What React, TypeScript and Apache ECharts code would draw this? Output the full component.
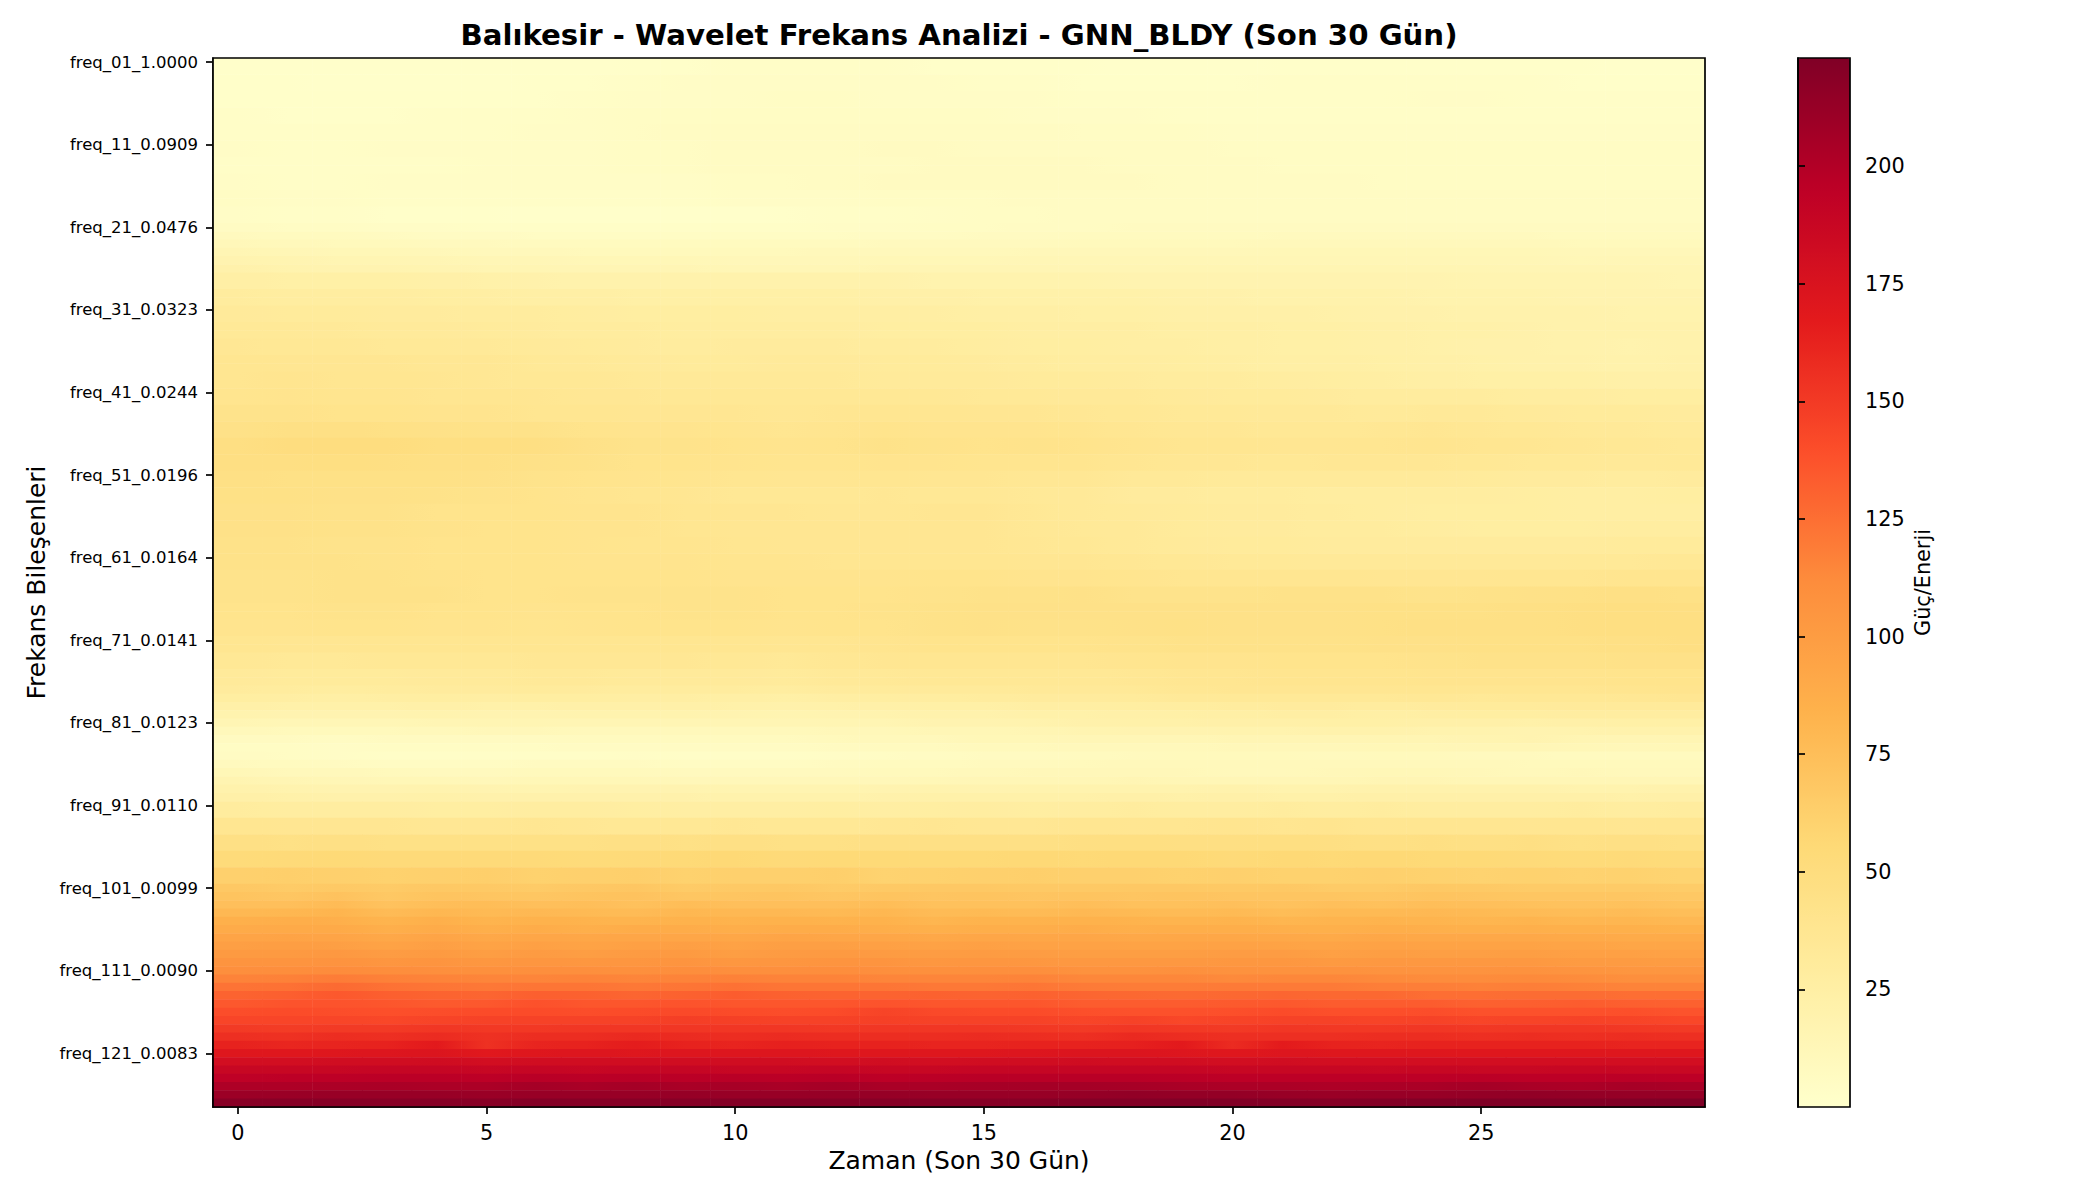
import React, { useEffect, useRef } from "react";
import * as echarts from "echarts";

const days = Array.from({ length: 30 }, (_, i) => String(i));
const tickLabels = [
  "freq_01_1.0000", "freq_11_0.0909", "freq_21_0.0476", "freq_31_0.0323", "freq_41_0.0244",
  "freq_51_0.0196", "freq_61_0.0164", "freq_71_0.0141", "freq_81_0.0123", "freq_91_0.0110",
  "freq_101_0.0099", "freq_111_0.0090", "freq_121_0.0083",
];
const colorbarTicks = [25, 50, 75, 100, 125, 150, 175, 200];
const ylOrRd = ["#ffffcc", "#ffeda0", "#fed976", "#feb24c", "#fd8d3c", "#fc4e2a", "#e31a1c", "#bd0026", "#800026"];
const VMIN = 0;
const VMAX = 223;

// How many frequency rows each line of bandValues covers (one row where the colour changes fast).
const bandRowCounts = [
  2, 2, 2, 2, 2, 2, 2, 2, 2, 2,
  1, 1, 1, 1, 1, 1,
  2, 2, 2, 2, 2, 2, 2, 2, 2, 2, 2, 2, 2, 2, 2, 2, 2, 2, 2, 2, 2, 2, 2, 2, 2,
  1, 1, 1, 1, 1, 1, 1, 1, 1, 1, 1, 1, 1, 1,
  2, 2, 2, 2, 2,
  1, 1, 1, 1, 1, 1, 1, 1, 1, 1, 1, 1, 1, 1, 1, 1, 1, 1, 1, 1, 1, 1, 1, 1, 1, 1, 1,
];
const bandValues = [
  [1,1,1,1,1,1,1,1,2,2,3,3,3,3,2,2,2,2,1,1,1,2,2,2,2,2,2,2,1,1],
  [2,2,1,1,1,1,2,2,3,4,4,4,4,4,4,3,3,2,2,2,2,3,3,3,3,3,3,2,2,2],
  [2,2,2,2,2,2,2,3,4,4,4,5,5,4,4,4,4,3,3,3,3,3,3,3,4,4,3,3,3,3],
  [3,2,2,2,3,3,3,4,5,5,5,5,5,5,5,5,4,4,4,3,3,3,3,3,3,3,3,3,3,3],
  [3,3,3,3,3,3,4,4,5,6,6,6,6,6,6,6,6,5,5,5,4,4,4,4,4,4,4,4,4,4],
  [4,3,3,4,4,4,4,4,5,5,6,6,6,7,7,6,6,6,6,6,5,5,5,5,5,5,5,5,5,5],
  [3,3,3,3,3,4,4,4,5,5,6,6,6,6,7,7,7,7,6,6,6,5,5,5,5,5,5,5,5,5],
  [4,3,3,4,4,4,4,4,4,4,5,5,6,7,7,7,7,7,7,6,6,6,6,5,5,5,5,5,5,5],
  [5,4,4,3,3,3,3,3,3,3,4,4,4,5,5,5,6,6,6,6,6,6,6,6,6,6,6,6,6,6],
  [4,3,3,2,2,2,1,1,1,1,1,2,3,3,4,5,5,6,6,6,6,6,6,6,6,6,6,6,6,6],
  [6,5,5,4,4,3,3,3,3,3,3,3,4,4,5,5,6,6,7,7,7,7,7,7,7,7,7,7,7,7],
  [9,8,8,7,6,6,5,5,5,5,5,5,5,6,6,7,7,8,8,8,8,9,9,9,9,9,9,8,8,8],
  [12,11,10,10,9,9,8,8,8,8,8,8,8,9,9,9,9,10,10,10,10,11,11,11,11,11,11,10,10,10],
  [15,14,13,13,12,11,11,10,10,10,10,10,11,11,11,11,12,12,12,12,12,13,13,13,13,13,13,12,12,12],
  [18,17,16,16,15,14,14,13,13,13,12,12,12,13,13,13,14,14,14,14,14,14,14,14,14,14,14,13,14,14],
  [21,19,18,18,17,16,16,15,15,15,14,14,14,15,15,15,15,15,15,16,16,16,16,16,16,16,15,15,15,15],
  [25,24,24,24,23,22,21,20,20,20,20,20,20,20,19,19,19,19,18,18,18,18,18,18,18,17,17,17,17,16],
  [29,28,28,28,27,26,25,25,24,24,24,24,24,23,23,22,22,22,22,21,21,20,20,20,19,19,19,18,18,18],
  [32,31,31,30,30,29,29,28,27,27,27,26,26,26,26,25,25,24,24,23,23,23,22,21,21,20,20,20,19,19],
  [34,34,33,32,32,31,30,29,29,28,28,28,28,27,27,27,26,26,26,25,25,24,24,23,22,22,21,20,20,20],
  [36,35,35,34,34,33,32,31,30,29,30,30,30,29,29,28,27,27,26,26,25,24,24,23,22,21,21,20,19,20],
  [38,37,37,37,36,36,34,33,32,31,31,32,32,31,31,30,29,28,28,27,26,25,25,24,23,22,21,21,20,21],
  [38,39,38,38,37,36,35,35,34,33,33,33,33,32,32,32,31,31,30,29,29,28,27,26,25,24,24,24,23,23],
  [39,40,39,39,38,38,37,36,36,35,35,35,35,35,35,34,34,33,33,32,31,31,30,29,29,29,28,28,27,27],
  [42,42,41,41,40,40,38,38,37,37,37,36,37,38,38,37,37,36,35,34,34,33,33,32,33,33,32,31,31,30],
  [44,46,46,45,44,43,43,41,40,40,39,38,39,41,40,40,40,39,37,36,36,35,35,36,37,36,35,34,33,32],
  [47,50,50,50,48,48,47,44,42,42,41,40,41,43,42,41,42,41,39,38,38,37,37,38,39,38,37,36,35,34],
  [47,47,48,47,46,46,44,43,41,41,40,39,39,40,40,39,39,39,37,36,36,35,36,36,36,35,34,34,33,34],
  [46,45,45,45,45,44,42,41,40,39,38,37,37,38,37,37,36,36,33,33,32,32,32,32,32,31,30,30,29,30],
  [45,45,44,44,43,42,41,39,38,37,35,35,35,36,35,35,34,33,30,30,29,29,28,28,28,28,27,26,26,27],
  [44,44,43,43,41,41,41,40,40,38,37,37,36,36,37,37,35,33,32,31,30,30,29,28,27,27,27,26,26,26],
  [44,44,43,43,42,41,41,40,40,38,37,37,37,37,37,37,35,34,33,31,30,30,29,29,28,27,27,27,28,28],
  [43,43,42,42,41,41,41,40,39,39,38,37,37,37,37,37,36,35,33,32,31,31,30,30,30,30,30,30,31,31],
  [43,43,43,42,41,41,41,40,40,40,39,39,38,38,38,38,37,37,36,35,34,34,33,33,33,33,33,34,34,35],
  [42,42,43,43,42,41,41,41,41,41,40,40,40,40,41,41,40,40,39,38,38,38,38,37,37,37,38,38,39,39],
  [42,42,43,43,43,41,41,42,42,42,42,41,41,41,42,43,43,44,42,42,42,43,43,43,42,43,44,45,46,45],
  [41,41,42,42,41,41,40,41,41,42,42,41,41,42,43,44,44,44,44,44,44,44,44,45,45,45,46,47,48,47],
  [40,40,41,41,40,40,39,40,41,41,41,40,41,41,43,44,43,43,44,45,44,44,44,45,46,46,46,47,48,48],
  [38,37,37,38,38,38,38,38,38,38,38,37,38,39,41,41,41,41,42,43,43,43,43,44,44,45,45,45,46,47],
  [35,34,34,35,35,35,36,36,36,36,35,34,36,37,38,38,38,38,39,40,40,41,41,41,42,43,43,43,44,44],
  [32,31,31,31,32,32,33,33,32,32,32,31,33,34,35,35,35,35,36,37,38,39,39,39,40,40,40,40,41,41],
  [30,29,28,29,30,30,31,30,29,29,29,28,30,31,32,32,33,33,34,36,37,37,37,37,38,37,38,38,39,40],
  [27,26,25,26,27,26,27,27,26,26,25,24,26,27,28,29,30,30,31,33,34,34,34,34,35,34,35,35,36,37],
  [23,22,22,22,23,22,22,23,23,23,22,21,22,23,24,24,26,26,27,28,29,30,30,29,30,31,31,32,32,32],
  [19,18,18,18,19,18,18,19,19,19,18,17,18,19,20,20,22,22,23,24,25,26,26,25,26,27,27,28,28,28],
  [15,14,14,14,15,16,16,15,15,15,15,15,16,16,18,18,19,21,22,22,23,23,24,24,23,23,22,23,24,24],
  [11,10,10,10,11,12,12,11,11,11,11,11,12,12,14,14,15,17,18,18,19,19,20,20,19,19,18,19,20,20],
  [7,7,6,7,7,7,7,8,8,8,8,8,10,11,11,13,13,14,14,14,15,15,15,16,16,17,18,16,15,16],
  [5,5,4,5,5,5,5,6,6,6,6,6,7,8,8,10,10,11,11,11,12,12,12,13,13,14,14,13,12,13],
  [6,5,4,3,3,3,3,3,4,3,3,3,4,5,6,7,7,8,9,10,10,10,9,10,10,9,9,8,8,8],
  [9,8,7,6,6,6,7,7,7,6,6,6,7,8,8,9,9,10,11,11,11,11,11,11,11,11,10,10,10,10],
  [13,11,11,10,9,9,10,10,10,9,9,9,9,10,10,11,12,12,12,12,11,11,12,13,13,12,11,12,11,11],
  [17,15,14,13,13,12,13,13,13,12,12,12,12,12,13,14,14,14,15,14,14,14,14,15,15,14,14,14,14,14],
  [20,19,18,18,19,18,17,18,18,18,17,17,17,18,19,18,19,19,19,19,20,19,19,20,20,20,20,19,19,20],
  [23,22,21,21,22,21,21,21,21,21,20,20,20,21,22,22,22,22,23,22,23,22,22,23,23,23,23,23,22,23],
  [29,28,28,28,27,27,28,28,27,26,26,26,27,26,27,28,27,28,29,28,28,29,28,29,28,28,28,29,28,29],
  [38,37,37,37,36,36,37,36,35,35,36,35,35,36,37,36,36,38,37,38,39,38,39,37,38,38,37,38,37,38],
  [46,45,46,45,45,45,45,45,46,45,46,45,45,46,46,46,46,47,48,47,47,48,47,46,47,46,47,45,46,45],
  [53,54,55,54,54,54,54,53,54,55,56,54,55,55,55,55,56,55,56,56,54,56,55,56,55,55,54,53,54,53],
  [62,63,62,61,62,63,61,62,63,61,62,62,63,60,61,62,63,62,62,61,62,61,61,62,61,60,61,60,61,59],
  [68,66,67,66,68,67,66,68,69,66,67,68,66,67,68,68,67,67,68,68,67,68,66,66,68,67,66,66,66,65],
  [71,69,72,68,71,70,69,71,72,69,70,71,69,71,70,71,70,71,70,71,70,70,70,69,71,70,69,69,69,68],
  [74,74,77,72,75,76,74,75,73,76,74,74,74,76,73,73,73,75,73,73,74,72,74,73,75,74,73,72,73,71],
  [79,80,82,77,80,78,79,78,77,80,79,79,78,80,77,78,77,79,78,77,78,76,78,78,79,78,77,76,77,75],
  [85,87,86,82,86,82,84,83,82,84,83,84,83,84,81,83,83,84,83,82,83,81,82,83,82,81,82,80,81,79],
  [89,90,90,86,89,86,88,86,88,88,87,88,88,87,85,87,87,88,86,87,87,86,85,87,86,85,86,85,85,84],
  [94,95,94,91,94,91,93,92,93,93,92,94,93,93,91,93,92,93,91,92,92,91,90,92,91,91,91,90,89,89],
  [98,99,98,95,98,95,97,95,97,98,96,98,98,97,96,97,96,96,95,95,96,95,94,96,95,95,95,94,93,93],
  [102,102,103,100,102,99,101,99,101,102,99,101,102,101,100,101,100,99,99,99,100,100,97,99,98,98,99,97,97,96],
  [106,106,107,105,106,104,105,104,105,106,104,105,106,106,104,105,104,103,103,103,104,104,102,103,103,103,103,101,101,100],
  [110,111,112,111,110,109,110,110,109,111,110,110,111,110,109,110,110,108,108,109,108,108,108,107,107,107,108,106,105,105],
  [116,117,119,117,116,115,115,116,115,116,117,116,116,115,115,115,116,114,114,114,113,114,114,113,112,112,113,112,110,110],
  [123,124,127,124,122,121,122,122,121,122,124,122,122,122,121,121,122,120,119,119,120,120,120,118,118,117,118,117,116,116],
  [130,132,135,132,130,129,132,131,129,131,133,131,130,130,131,130,131,129,128,127,128,129,128,128,125,125,126,126,125,125],
  [135,137,137,136,134,135,138,136,136,137,136,136,136,137,136,136,136,133,133,133,134,135,133,133,133,131,132,133,132,131],
  [140,141,140,139,140,141,141,140,141,142,141,140,141,145,142,141,141,139,138,138,139,141,139,139,140,138,138,138,139,137],
  [144,144,144,143,145,146,146,146,146,148,147,146,146,147,146,146,146,144,146,143,145,146,146,145,146,144,145,146,145,143],
  [150,149,150,150,152,151,151,152,152,152,152,152,151,152,152,152,151,150,152,151,150,152,151,151,152,151,152,152,151,150],
  [156,155,157,156,158,155,157,157,159,158,157,158,157,157,157,158,157,156,159,157,156,156,156,157,157,156,157,156,157,156],
  [163,161,162,163,168,155,162,163,166,163,162,164,163,163,162,162,163,163,164,168,158,167,163,162,163,163,163,163,162,162],
  [171,170,171,172,173,169,171,172,171,172,172,172,171,171,171,171,172,173,173,172,170,172,171,171,171,170,170,171,171,171],
  [180,180,181,181,182,180,181,181,181,181,181,181,180,181,180,181,181,182,181,181,180,181,180,180,180,180,180,180,180,180],
  [188,188,188,189,189,188,189,188,189,189,188,188,189,188,188,189,189,189,189,189,188,188,188,187,188,187,187,188,187,187],
  [194,195,195,196,196,195,197,196,197,196,197,196,197,195,196,197,197,197,197,196,195,195,195,195,195,196,195,195,196,195],
  [202,202,203,204,203,203,206,204,206,204,205,204,206,204,204,205,206,206,205,204,203,203,202,203,204,206,204,203,205,204],
  [210,211,212,212,212,211,212,212,212,213,212,212,213,213,212,212,212,213,215,214,214,212,211,212,212,214,215,214,213,213],
  [219,220,220,219,220,219,221,220,220,220,221,221,220,220,220,220,220,221,221,222,222,221,220,221,222,223,222,221,222,223],
];

const frequencyRows = Array.from({ length: 127 }, (_, i) =>
  i % 10 === 0
    ? tickLabels[i / 10]
    : `freq_${String(i + 1).padStart(2, "0")}_${(1 / (i + 1)).toFixed(4)}`
);

// Same colour scale as the colourbar, used to paint each cell's left-to-right blend.
const stops = ylOrRd.map((h) => [1, 3, 5].map((p) => parseInt(h.slice(p, p + 2), 16)));
function colorOf(v: number): string {
  const t = (Math.min(VMAX, Math.max(VMIN, v)) - VMIN) / (VMAX - VMIN);
  const pos = t * (stops.length - 1);
  const i = Math.min(stops.length - 2, Math.floor(pos));
  const f = pos - i;
  const c = stops[i].map((a, k) => Math.round(a + (stops[i + 1][k] - a) * f));
  return `rgb(${c[0]},${c[1]},${c[2]})`;
}

function buildCells() {
  const cells: any[] = [];
  let row = 0;
  bandValues.forEach((values, b) => {
    for (let n = 0; n < bandRowCounts[b]; n++, row++) {
      values.forEach((v, col) => {
        const left = col > 0 ? (values[col - 1] + v) / 2 : v;
        const right = col < values.length - 1 ? (values[col + 1] + v) / 2 : v;
        cells.push({
          value: [col, row, v],
          itemStyle: {
            color: new echarts.graphic.LinearGradient(0, 0, 1, 0, [
              { offset: 0, color: colorOf(left) },
              { offset: 0.5, color: colorOf(v) },
              { offset: 1, color: colorOf(right) },
            ]),
          },
        });
      });
    }
  });
  return cells;
}

const FONT = "DejaVu Sans";

export default function App() {
  const ref = useRef<HTMLDivElement>(null);
  useEffect(() => {
    const chart = echarts.init(ref.current!, null, { renderer: "svg" });
    const edge = { lineStyle: { color: "#000", width: 1.7 } };
    chart.setOption({
      animation: false,
      backgroundColor: "#fff",
      textStyle: { fontFamily: FONT },
      title: {
        text: "Balıkesir - Wavelet Frekans Analizi - GNN_BLDY (Son 30 Gün)",
        left: 954,
        top: 15,
        textAlign: "center",
        textStyle: { fontFamily: FONT, fontSize: 29.2, fontWeight: "bold", color: "#000" },
      },
      grid: [
        { left: 213, top: 58, width: 1492, height: 1049, show: true, borderColor: "#000", borderWidth: 1.7, z: 5 },
        { left: 1798, top: 58, width: 52, height: 1049, show: true, borderColor: "#000", borderWidth: 1.7, z: 8 },
      ],
      xAxis: [
        {
          type: "category",
          gridIndex: 0,
          data: days,
          name: "Zaman (Son 30 Gün)",
          nameLocation: "middle",
          nameGap: 41,
          nameTextStyle: { fontFamily: FONT, fontSize: 25, color: "#000" },
          axisLine: { show: true, ...edge },
          axisTick: { show: true, interval: 4, alignWithLabel: true, length: 7, ...edge },
          axisLabel: { interval: 4, margin: 15, fontFamily: FONT, fontSize: 20.8, color: "#000" },
          splitLine: { show: false },
        },
        { type: "value", gridIndex: 1, show: false, min: 0, max: 1 },
      ],
      yAxis: [
        {
          type: "category",
          gridIndex: 0,
          inverse: true,
          data: frequencyRows,
          name: "Frekans Bileşenleri",
          nameLocation: "middle",
          nameGap: 162,
          nameRotate: 90,
          nameTextStyle: { fontFamily: FONT, fontSize: 25, color: "#000" },
          axisLine: { show: true, ...edge },
          axisTick: { show: true, interval: 9, alignWithLabel: true, length: 7, ...edge },
          axisLabel: { interval: 9, margin: 15, padding: [5, 0, 0, 0], fontFamily: FONT, fontSize: 16.5, color: "#000" },
          splitLine: { show: false },
        },
        {
          type: "value",
          gridIndex: 1,
          position: "right",
          min: VMIN,
          max: VMAX,
          name: "Güç/Enerji",
          nameLocation: "middle",
          nameGap: 62,
          nameRotate: 90,
          nameTextStyle: { fontFamily: FONT, fontSize: 20.8, color: "#000" },
          axisLine: { show: true, ...edge },
          axisTick: { show: true, customValues: colorbarTicks, length: 7, ...edge },
          axisLabel: { customValues: colorbarTicks, margin: 15, fontFamily: FONT, fontSize: 20.8, color: "#000" },
          splitLine: { show: false },
          z: 8,
        },
      ],
      visualMap: [
        {
          type: "continuous",
          seriesIndex: 1,
          min: VMIN,
          max: VMAX,
          left: 1798,
          top: 58,
          itemWidth: 52,
          itemHeight: 1049,
          padding: 0,
          calculable: false,
          realtime: false,
          hoverLink: false,
          showLabel: false,
          text: ["", ""],
          inRange: { color: ylOrRd },
          z: 4,
        },
        {
          type: "continuous",
          show: false,
          seriesIndex: 0,
          min: VMIN,
          max: VMAX,
          inRange: { opacity: [1, 1] },
        },
      ],
      series: [
        {
          type: "heatmap",
          xAxisIndex: 0,
          yAxisIndex: 0,
          data: buildCells(),
          progressive: 0,
          itemStyle: { borderWidth: 0 },
          emphasis: { disabled: true },
        },
        { type: "scatter", xAxisIndex: 1, yAxisIndex: 1, data: [], silent: true },
      ],
    });
    return () => chart.dispose();
  }, []);
  return <div ref={ref} style={{ position: "fixed", left: 0, top: 0, width: 2100, height: 1200 }} />;
}
